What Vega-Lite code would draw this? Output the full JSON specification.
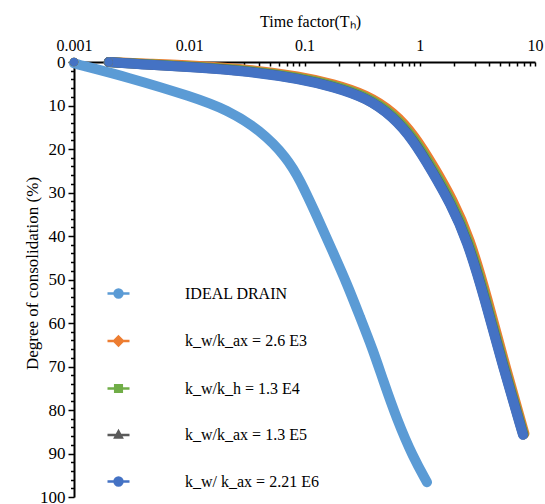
{
  "$schema": "https://vega.github.io/schema/vega-lite/v6.json",
  "width": 461,
  "height": 435,
  "autosize": {"type": "none"},
  "padding": {"left": 74, "top": 62, "right": 10, "bottom": 7},
  "background": "white",
  "config": {
    "view": {"stroke": null},
    "font": "Liberation Serif, Times New Roman, serif",
    "axis": {"labelColor": "black", "titleColor": "black", "titleFontWeight": "normal", "domainColor": "black", "tickColor": "black", "grid": false}
  },
  "data": {
    "values": [
      {"series": "IDEAL DRAIN", "Th": 0.001, "U": 0.3},
      {"series": "IDEAL DRAIN", "Th": 0.00106, "U": 0.5},
      {"series": "IDEAL DRAIN", "Th": 0.00288, "U": 3.45},
      {"series": "IDEAL DRAIN", "Th": 0.0108, "U": 8.05},
      {"series": "IDEAL DRAIN", "Th": 0.0213, "U": 11.0},
      {"series": "IDEAL DRAIN", "Th": 0.0411, "U": 15.6},
      {"series": "IDEAL DRAIN", "Th": 0.0705, "U": 22.0},
      {"series": "IDEAL DRAIN", "Th": 0.0914, "U": 27.1},
      {"series": "IDEAL DRAIN", "Th": 0.128, "U": 35.4},
      {"series": "IDEAL DRAIN", "Th": 0.173, "U": 43.2},
      {"series": "IDEAL DRAIN", "Th": 0.234, "U": 51.0},
      {"series": "IDEAL DRAIN", "Th": 0.303, "U": 58.6},
      {"series": "IDEAL DRAIN", "Th": 0.393, "U": 66.2},
      {"series": "IDEAL DRAIN", "Th": 0.48, "U": 73.1},
      {"series": "IDEAL DRAIN", "Th": 0.636, "U": 82.3},
      {"series": "IDEAL DRAIN", "Th": 0.873, "U": 90.8},
      {"series": "IDEAL DRAIN", "Th": 1.156, "U": 96.6},

      {"series": "k_w/k_ax = 2.6 E3", "Th": 0.001, "U": 0},
      {"series": "k_w/k_ax = 2.6 E3", "Th": 0.002, "U": 0},
      {"series": "k_w/k_ax = 2.6 E3", "Th": 0.00456, "U": 0.4},
      {"series": "k_w/k_ax = 2.6 E3", "Th": 0.0108, "U": 0.8},
      {"series": "k_w/k_ax = 2.6 E3", "Th": 0.0337, "U": 1.7},
      {"series": "k_w/k_ax = 2.6 E3", "Th": 0.0914, "U": 3.3},
      {"series": "k_w/k_ax = 2.6 E3", "Th": 0.177, "U": 5.0},
      {"series": "k_w/k_ax = 2.6 E3", "Th": 0.348, "U": 7.5},
      {"series": "k_w/k_ax = 2.6 E3", "Th": 0.6, "U": 11.6},
      {"series": "k_w/k_ax = 2.6 E3", "Th": 0.9, "U": 16.8},
      {"series": "k_w/k_ax = 2.6 E3", "Th": 1.36, "U": 24.5},
      {"series": "k_w/k_ax = 2.6 E3", "Th": 1.92, "U": 31.5},
      {"series": "k_w/k_ax = 2.6 E3", "Th": 2.7, "U": 40.2},
      {"series": "k_w/k_ax = 2.6 E3", "Th": 3.86, "U": 54.2},
      {"series": "k_w/k_ax = 2.6 E3", "Th": 5.5, "U": 69.7},
      {"series": "k_w/k_ax = 2.6 E3", "Th": 8.1, "U": 85.4},

      {"series": "k_w/k_h = 1.3 E4", "Th": 0.001, "U": 0},
      {"series": "k_w/k_h = 1.3 E4", "Th": 0.002, "U": 0},
      {"series": "k_w/k_h = 1.3 E4", "Th": 0.00456, "U": 0.55},
      {"series": "k_w/k_h = 1.3 E4", "Th": 0.0108, "U": 1.0},
      {"series": "k_w/k_h = 1.3 E4", "Th": 0.0337, "U": 1.95},
      {"series": "k_w/k_h = 1.3 E4", "Th": 0.0914, "U": 3.6},
      {"series": "k_w/k_h = 1.3 E4", "Th": 0.177, "U": 5.35},
      {"series": "k_w/k_h = 1.3 E4", "Th": 0.348, "U": 7.9},
      {"series": "k_w/k_h = 1.3 E4", "Th": 0.593, "U": 12.1},
      {"series": "k_w/k_h = 1.3 E4", "Th": 0.886, "U": 17.35},
      {"series": "k_w/k_h = 1.3 E4", "Th": 1.33, "U": 25.0},
      {"series": "k_w/k_h = 1.3 E4", "Th": 1.875, "U": 31.95},
      {"series": "k_w/k_h = 1.3 E4", "Th": 2.635, "U": 40.55},
      {"series": "k_w/k_h = 1.3 E4", "Th": 3.77, "U": 54.45},
      {"series": "k_w/k_h = 1.3 E4", "Th": 5.38, "U": 69.9},
      {"series": "k_w/k_h = 1.3 E4", "Th": 7.98, "U": 85.55},

      {"series": "k_w/k_ax = 1.3 E5", "Th": 0.001, "U": 0},
      {"series": "k_w/k_ax = 1.3 E5", "Th": 0.002, "U": 0},
      {"series": "k_w/k_ax = 1.3 E5", "Th": 0.00456, "U": 0.65},
      {"series": "k_w/k_ax = 1.3 E5", "Th": 0.0108, "U": 1.1},
      {"series": "k_w/k_ax = 1.3 E5", "Th": 0.0337, "U": 2.1},
      {"series": "k_w/k_ax = 1.3 E5", "Th": 0.0914, "U": 3.8},
      {"series": "k_w/k_ax = 1.3 E5", "Th": 0.177, "U": 5.6},
      {"series": "k_w/k_ax = 1.3 E5", "Th": 0.348, "U": 8.2},
      {"series": "k_w/k_ax = 1.3 E5", "Th": 0.588, "U": 12.5},
      {"series": "k_w/k_ax = 1.3 E5", "Th": 0.878, "U": 17.8},
      {"series": "k_w/k_ax = 1.3 E5", "Th": 1.31, "U": 25.4},
      {"series": "k_w/k_ax = 1.3 E5", "Th": 1.84, "U": 32.3},
      {"series": "k_w/k_ax = 1.3 E5", "Th": 2.59, "U": 40.8},
      {"series": "k_w/k_ax = 1.3 E5", "Th": 3.7, "U": 54.6},
      {"series": "k_w/k_ax = 1.3 E5", "Th": 5.3, "U": 70.0},
      {"series": "k_w/k_ax = 1.3 E5", "Th": 7.9, "U": 85.65},

      {"series": "k_w/ k_ax = 2.21 E6", "Th": 0.001, "U": 0},
      {"series": "k_w/ k_ax = 2.21 E6", "Th": 0.002, "U": 0},
      {"series": "k_w/ k_ax = 2.21 E6", "Th": 0.00456, "U": 0.7},
      {"series": "k_w/ k_ax = 2.21 E6", "Th": 0.0108, "U": 1.15},
      {"series": "k_w/ k_ax = 2.21 E6", "Th": 0.0337, "U": 2.2},
      {"series": "k_w/ k_ax = 2.21 E6", "Th": 0.0914, "U": 3.9},
      {"series": "k_w/ k_ax = 2.21 E6", "Th": 0.177, "U": 5.7},
      {"series": "k_w/ k_ax = 2.21 E6", "Th": 0.348, "U": 8.3},
      {"series": "k_w/ k_ax = 2.21 E6", "Th": 0.586, "U": 12.6},
      {"series": "k_w/ k_ax = 2.21 E6", "Th": 0.873, "U": 17.9},
      {"series": "k_w/ k_ax = 2.21 E6", "Th": 1.303, "U": 25.5},
      {"series": "k_w/ k_ax = 2.21 E6", "Th": 1.83, "U": 32.4},
      {"series": "k_w/ k_ax = 2.21 E6", "Th": 2.57, "U": 40.9},
      {"series": "k_w/ k_ax = 2.21 E6", "Th": 3.68, "U": 54.7},
      {"series": "k_w/ k_ax = 2.21 E6", "Th": 5.27, "U": 70.1},
      {"series": "k_w/ k_ax = 2.21 E6", "Th": 7.87, "U": 85.7}
    ]
  },
  "encoding": {
    "x": {
      "field": "Th", "type": "quantitative",
      "scale": {"type": "log", "domain": [0.001, 10], "nice": false},
      "axis": {
        "orient": "top",
        "title": "Time factor(Tₕ)",
        "titleFont": "Liberation Serif, Times New Roman, serif",
        "titleFontSize": 16,
        "titlePadding": 8,
        "titleX": 236,
        "values": [0.001,0.002,0.003,0.004,0.005,0.006,0.007,0.008,0.009,0.01,0.02,0.03,0.04,0.05,0.06,0.07,0.08,0.09,0.1,0.2,0.3,0.4,0.5,0.6,0.7,0.8,0.9,1,2,3,4,5,6,7,8,9,10],
        "format": "~g",
        "labelExpr": "indexof(['0.001','0.01','0.1','1','10'], datum.label) >= 0 ? datum.label : ''",
        "labelFont": "Liberation Serif, Times New Roman, serif",
        "labelFontSize": 16,
        "labelPadding": 13,
        "labelFlush": false,
        "tickSize": -4,
        "tickWidth": 1.5,
        "domainWidth": 2
      }
    },
    "y": {
      "field": "U", "type": "quantitative",
      "scale": {"domain": [0, 100], "reverse": true, "nice": false},
      "axis": {
        "title": "Degree of consolidation (%)",
        "titleFont": "Liberation Serif, Times New Roman, serif",
        "titleFontSize": 17,
        "titleBaseline": "middle",
        "titleX": -42,
        "titleY": 211,
        "values": [0,2,4,6,8,10,12,14,16,18,20,22,24,26,28,30,32,34,36,38,40,42,44,46,48,50,52,54,56,58,60,62,64,66,68,70,72,74,76,78,80,82,84,86,88,90,92,94,96,98,100],
        "labelExpr": "datum.value % 10 === 0 ? datum.label : ''",
        "labelFont": "Liberation Serif, Times New Roman, serif",
        "labelFontSize": 17,
        "labelPadding": 3,
        "labelFlush": false,
        "tickSize": {"condition": {"test": "datum.value % 10 === 0", "value": 6}, "value": 3.5},
        "tickWidth": 1.5,
        "domainWidth": 2
      }
    },
    "color": {
      "field": "series", "type": "nominal",
      "scale": {
        "domain": ["IDEAL DRAIN", "k_w/k_ax = 2.6 E3", "k_w/k_h = 1.3 E4", "k_w/k_ax = 1.3 E5", "k_w/ k_ax = 2.21 E6"],
        "range": ["#5B9BD5", "#ED7D31", "#70AD47", "#5A5A5A", "#4472C4"]
      },
      "legend": {
        "title": null,
        "orient": "none",
        "legendX": 32,
        "legendY": 219,
        "padding": 0,
        "symbolSize": 484,
        "symbolStrokeWidth": 2.5,
        "rowPadding": 25.5,
        "labelOffset": 54,
        "labelFont": "Liberation Serif, Times New Roman, serif",
        "labelFontSize": 16,
        "labelColor": "black",
        "labelLimit": 300,
        "labelExpr": "datum.label === 'IDEAL DRAIN' ? '\u00a0\u00a0IDEAL DRAIN' : datum.label",
        "encode": {
          "symbols": {
            "update": {
              "fill": {"signal": "scale('color', datum.value)"},
              "stroke": {"signal": "scale('color', datum.value)"},
              "opacity": {"value": 1},
              "shape": {"signal": "datum.value === 'k_w/k_ax = 2.6 E3' ? 'M-1,0H1M0,-0.4L0.4,0L0,0.4L-0.4,0Z' : datum.value === 'k_w/k_h = 1.3 E4' ? 'M-1,0H1M-0.3,-0.3H0.3V0.3H-0.3Z' : datum.value === 'k_w/k_ax = 1.3 E5' ? 'M-1,0H1M0,-0.33L0.3,0.22H-0.3Z' : 'M-1,0H1M0.36,0A0.36,0.36,0,1,1,-0.36,0A0.36,0.36,0,1,1,0.36,0Z'"}
            }
          }
        }
      }
    }
  },
  "layer": [
    {
      "transform": [{"filter": "datum.Th > 0.0015 || datum.series === 'IDEAL DRAIN'"}],
      "mark": {"type": "line", "strokeWidth": 10, "strokeCap": "round", "strokeJoin": "round", "interpolate": "basis"}
    },
    {
      "transform": [{"filter": "datum.Th < 0.0025 && datum.series !== 'IDEAL DRAIN'"}],
      "mark": {"type": "point", "filled": true, "size": 75, "opacity": 1}
    }
  ]
}
